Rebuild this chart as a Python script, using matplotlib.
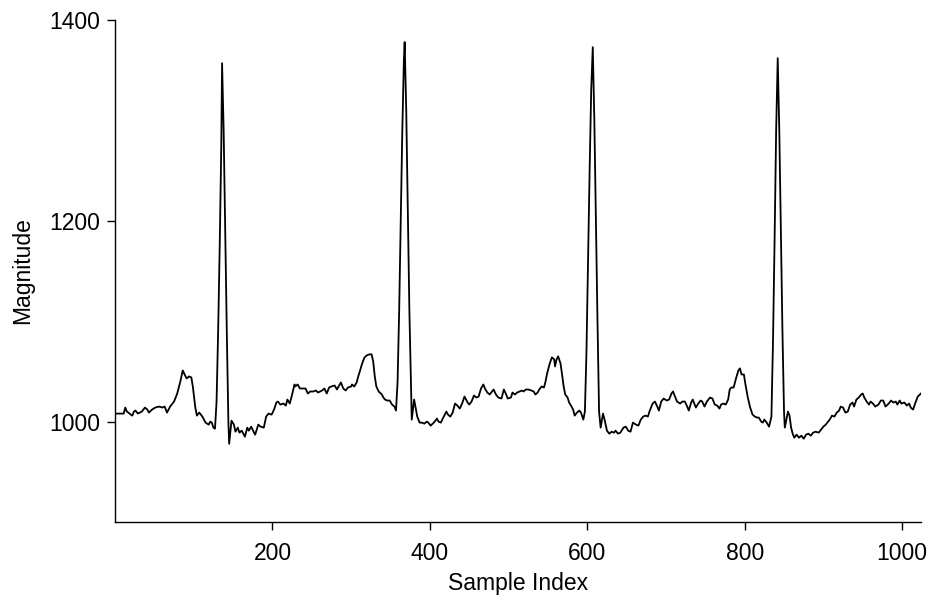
import matplotlib
matplotlib.use("Agg")
import matplotlib.pyplot as plt

# sample index / magnitude
sample_index = [
    1, 11, 13, 15, 17, 20, 22, 24, 26, 29, 34, 38, 41, 43, 47, 51, 56, 60, 63, 66,
    70, 75, 79, 83, 86, 89, 91, 94, 97, 99, 102, 104, 107, 111, 115, 119, 121, 123, 125,
    127, 129, 131, 133, 135, 136, 138, 140, 142, 144, 145,
    148, 151, 153, 156, 158, 161, 165, 168, 170, 173, 176, 178, 182, 185, 189, 192, 195,
    199, 202, 205, 207, 210, 214, 217, 219, 222, 225, 228, 229, 232, 235, 239, 242, 245,
    248, 252, 255, 258, 263, 266, 269, 272, 275, 279, 282, 284, 287, 290, 293, 296, 300,
    301, 304, 307, 309, 311, 314, 317, 320, 323, 326, 328, 330, 332, 335, 339, 341, 343,
    346, 349, 352, 355, 357,
    359, 361, 363, 365, 367, 368, 370, 372, 374, 377,
    380, 384, 387, 390, 393, 396, 398, 401, 405, 409, 411, 414, 417, 421, 423, 426, 429,
    432, 435, 438, 441, 444, 448, 450, 453, 456, 459, 462, 465, 468, 470, 473, 476, 478,
    481, 484, 487, 491, 494, 497, 499, 503, 505, 508, 511, 514, 517, 519, 522, 525, 529,
    532, 534, 537, 539, 542, 545, 547, 549, 552, 555, 558, 559, 561, 563, 566, 568, 570,
    572, 575, 577, 580, 582, 584, 587, 590, 592, 595,
    597, 599, 601, 603, 605, 607, 609, 611, 613, 615, 617,
    620, 622, 625, 628, 631, 634, 636, 639, 642, 646, 649, 652, 655, 658, 662, 665, 668,
    671, 674, 677, 679, 683, 686, 689, 691, 694, 697, 701, 704, 707, 709, 711, 714, 718,
    721, 724, 727, 729, 732, 734, 738, 741, 744, 746, 749, 752, 756, 759, 762, 765, 768,
    770, 773, 776, 779, 781, 783, 786, 789, 792, 794, 796, 799, 801, 804, 807, 810, 813,
    816, 818, 821, 823, 825, 828, 831,
    834, 836, 838, 840, 842, 844, 846, 848, 850, 851,
    855, 857, 859, 861, 863, 866, 869, 872, 875, 878, 881, 884, 887, 890, 894, 897, 900,
    903, 905, 908, 911, 914, 917, 920, 922, 925, 928, 931, 934, 937, 939, 942, 945, 948,
    950, 952, 955, 958, 960, 963, 966, 970, 973, 976, 979, 983, 986, 989, 992, 994, 997,
    999, 1003, 1006, 1009, 1011, 1014, 1017, 1020, 1024,
]

magnitude = [
    1008, 1008, 1014, 1010, 1009, 1007, 1006, 1010, 1011, 1008, 1010, 1014, 1012, 1009, 1012, 1014, 1015, 1014, 1015, 1009,
    1015, 1020, 1028, 1040, 1051, 1046, 1043, 1045, 1044, 1034, 1014, 1006, 1009, 1005, 999, 997, 1000, 999, 994,
    993, 1020, 1090, 1175, 1275, 1357, 1290, 1190, 1090, 1000, 978,
    1001, 997, 990, 994, 989, 991, 985, 994, 991, 995, 990, 987, 997, 995, 994, 1005, 1008,
    1007, 1012, 1019, 1020, 1017, 1018, 1016, 1022, 1018, 1027, 1037, 1035, 1037, 1033, 1033, 1033, 1028,
    1030, 1030, 1031, 1029, 1031, 1033, 1028, 1034, 1035, 1036, 1032, 1035, 1039, 1033, 1031, 1034, 1035,
    1037, 1035, 1039, 1045, 1050, 1058, 1064, 1066, 1067, 1067, 1060, 1045, 1035, 1030, 1027, 1024, 1022,
    1021, 1021, 1017, 1015, 1011,
    1040, 1110, 1200, 1290, 1360, 1378, 1310, 1210, 1110, 1002,
    1022, 1005, 999, 999, 998, 1000, 999, 996, 999, 1003, 1000, 999, 1004, 1010, 1007, 1005, 1009,
    1018, 1016, 1013, 1018, 1025, 1019, 1017, 1020, 1026, 1024, 1025, 1033, 1037, 1033, 1029, 1027, 1029,
    1032, 1027, 1024, 1023, 1032, 1027, 1023, 1024, 1029, 1027, 1029, 1030, 1031, 1030, 1032, 1032, 1031,
    1030, 1027, 1029, 1032, 1035, 1034, 1040, 1048, 1057, 1064, 1062, 1055, 1062, 1065, 1058, 1047, 1035,
    1027, 1024, 1019, 1015, 1012, 1006, 1009, 1011, 1009, 1002,
    1010, 1070, 1160, 1250, 1330, 1373, 1300, 1200, 1100, 1010, 994,
    1008, 1002, 991, 988, 990, 989, 991, 988, 989, 994, 995, 991, 990, 999, 997, 996, 1002,
    1005, 1006, 1005, 1010, 1018, 1020, 1015, 1011, 1020, 1023, 1021, 1022, 1028, 1030, 1026, 1020, 1018,
    1020, 1020, 1015, 1011, 1019, 1022, 1014, 1018, 1021, 1020, 1015, 1020, 1024, 1023, 1017, 1016, 1013,
    1017, 1018, 1017, 1022, 1032, 1034, 1034, 1043, 1051, 1053, 1047, 1047, 1037, 1024, 1014, 1007, 1005,
    1004, 1004, 1000, 999, 1002, 999, 995,
    1005, 1080, 1180, 1290, 1362, 1290, 1190, 1090, 1010, 994,
    1010, 1006, 994, 988, 984, 987, 984, 986, 983, 987, 988, 986, 989, 990, 989, 992, 995,
    997, 999, 1002, 1006, 1005, 1009, 1011, 1015, 1014, 1009, 1010, 1017, 1019, 1015, 1022, 1024, 1027,
    1028, 1024, 1020, 1017, 1020, 1018, 1015, 1017, 1021, 1021, 1015, 1018, 1021, 1019, 1020, 1017, 1021,
    1018, 1019, 1016, 1018, 1014, 1012, 1019, 1025, 1028,
]

x_ticks = [200, 400, 600, 800, 1000]
y_ticks = [1000, 1200, 1400]

plt.rcParams['font.family'] = ['Liberation Sans', 'DejaVu Sans']

fig = plt.figure(figsize=(9.33, 6.01), dpi=100)
ax = fig.add_axes([0.1233, 0.1314, 0.9871 - 0.1233, 0.9667 - 0.1314])
ax.plot(sample_index, magnitude, color='black', lw=1.3, solid_joinstyle='round')

ax.set_xlim(0, 1024)
ax.set_ylim(900, 1400)
ax.set_xticks(x_ticks)
ax.set_yticks(y_ticks)
for s in ['top', 'right']:
    ax.spines[s].set_visible(False)
for s in ['left', 'bottom']:
    ax.spines[s].set_linewidth(1.0)
ax.tick_params(direction='out', length=5.5, width=1.0, labelsize=16.5)
ax.tick_params(axis='x', pad=9)
ax.tick_params(axis='y', pad=5)
ax.set_xlabel('Sample Index', fontsize=16.5, labelpad=5)
ax.set_ylabel('Magnitude', fontsize=16.5, labelpad=11)

fig.savefig('out.png', dpi=100)
